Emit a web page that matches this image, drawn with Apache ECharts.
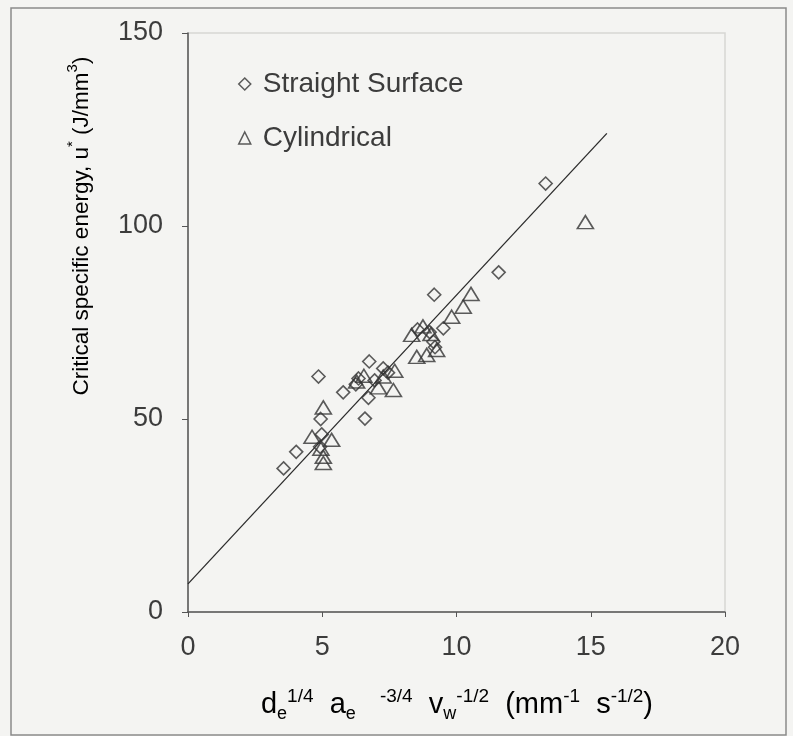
<!DOCTYPE html>
<html><head><meta charset="utf-8">
<script src="https://cdn.jsdelivr.net/npm/echarts@6/dist/echarts.min.js"></script>
<style>html,body{margin:0;padding:0;background:#f4f4f2}#c{width:793px;height:736px}</style>
</head><body><div id="c"></div>
<script>
const seriesNames = ['Straight Surface', 'Cylindrical'];
const xTicks = [0, 5, 10, 15, 20];
const yTicks = [0, 50, 100, 150];
const straight = [
  [3.56,37.2],[4.03,41.5],[4.92,42.8],[4.98,46.0],[4.94,50.0],[4.86,61.0],
  [5.78,56.9],[6.25,59.0],[6.35,60.5],[6.59,50.1],[6.72,55.5],[6.75,64.9],
  [6.95,60.0],[7.27,63.1],[7.45,62.0],[8.55,73.2],[9.0,72.5],[9.14,70.0],
  [9.2,68.6],[9.51,73.5],[9.17,82.2],[11.57,88.0],[13.32,111.0]
];
const cylindrical = [
  [4.62,45.4],[4.95,42.3],[5.04,53.0],[5.35,44.6],[5.04,40.2],[5.04,38.6],
  [6.28,59.7],[6.55,61.2],[7.09,58.2],[7.27,61.0],[7.65,57.5],[7.7,62.5],
  [8.33,71.8],[8.52,66.1],[8.89,66.6],[9.26,67.9],[8.75,74.0],[9.05,72.0],
  [9.82,76.5],[10.25,79.1],[10.54,82.4],[14.8,101.0]
];
const fitLine = [[0,7.3],[15.6,124.0]];

const font = '"Liberation Sans", Arial, sans-serif';
const txt = '#3c3c3c';
const chart = echarts.init(document.getElementById('c'));
const markerStyle = {color:'rgba(0,0,0,0)', borderColor:'#333', borderWidth:1.6};
chart.setOption({
  backgroundColor:'#f4f4f2',
  animation:false,
  grid:{left:188, top:33, right:68, bottom:124, show:true, borderColor:'#d6d6d4', borderWidth:1.5},
  legend:{
    data:[{name:seriesNames[0], icon:'diamond'},{name:seriesNames[1], icon:'triangle'}],
    orient:'vertical', left:233, top:65, itemWidth:12, itemHeight:12, itemGap:26,
    itemStyle:{color:'rgba(0,0,0,0)', borderColor:'#333', borderWidth:1.5},
    textStyle:{fontFamily:font, fontSize:28, color:txt, padding:[0,0,0,7]}
  },
  xAxis:{
    type:'value', min:xTicks[0], max:xTicks[xTicks.length-1], interval:5,
    axisLine:{show:true, onZero:false, lineStyle:{color:'#555', width:1.5}},
    axisTick:{show:true, length:5, lineStyle:{color:'#555'}},
    axisLabel:{fontFamily:font, fontSize:27, color:txt, margin:22},
    splitLine:{show:false}
  },
  yAxis:{
    type:'value', min:yTicks[0], max:yTicks[yTicks.length-1], interval:50,
    axisLine:{show:true, onZero:false, lineStyle:{color:'#555', width:1.5}},
    axisTick:{show:true, length:6, lineStyle:{color:'#555'}},
    axisLabel:{fontFamily:font, fontSize:27, color:txt, margin:25},
    splitLine:{show:false}
  },
  graphic:[
    {type:'rect', shape:{x:11, y:8, width:775, height:727}, style:{fill:'none', stroke:'#8a8a8a', lineWidth:1.5}, silent:true},
    {type:'text', x:79, y:226, rotation:Math.PI/2, silent:true,
     style:{text:'{b|Critical specific energy, u}{s|*}{b| (J/mm}{s|3}{b|)}', align:'center', verticalAlign:'middle',
       rich:{b:{fontFamily:font, fontSize:22.5, color:txt, lineHeight:28, verticalAlign:'bottom'},
             s:{fontFamily:font, fontSize:15, color:txt, lineHeight:28, verticalAlign:'top'}}}},
    {type:'text', x:457, y:705, silent:true,
     style:{text:'{b|d}{sb|e}{sp|1/4}{b|  a}{sb|e}{b|   }{sp|-3/4}{b|  v}{sb|w}{sp|-1/2}{b|  (mm}{sp|-1}{b|  s}{sp|-1/2}{b|)}',
       align:'center', verticalAlign:'middle',
       rich:{b:{fontFamily:font, fontSize:29, color:txt, height:36, lineHeight:36, verticalAlign:'middle'},
             sp:{fontFamily:font, fontSize:19, color:txt, lineHeight:26, verticalAlign:'top'},
             sb:{fontFamily:font, fontSize:18, color:txt, lineHeight:20, verticalAlign:'bottom'}}}}
  ],
  series:[
    {name:seriesNames[0], type:'scatter', symbol:'diamond', symbolSize:13, data:straight, itemStyle:markerStyle, z:3},
    {name:seriesNames[1], type:'scatter', symbol:'triangle', symbolSize:[16,13], data:cylindrical, itemStyle:markerStyle, z:3},
    {name:'fit', type:'line', data:fitLine, symbol:'none', lineStyle:{color:'#2a2a2a', width:1.3}, z:2}
  ]
});
</script></body></html>
